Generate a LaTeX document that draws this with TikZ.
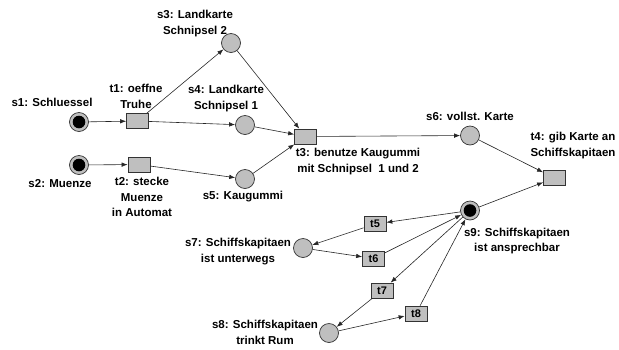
\documentclass[tikz,border=0pt]{standalone}
\usepackage{fontspec}
\setmainfont{Liberation Sans}
\usepackage{tikz}
\usetikzlibrary{arrows.meta}

\tikzset{
  place/.style={circle, draw=black!80, fill=black!25, line width=0.7pt, minimum size=19pt, inner sep=0pt},
  marked/.style={place, path picture={\fill[black] (path picture bounding box.center) circle (6.3pt);}},
  trans/.style={rectangle, draw=black!80, fill=black!25, line width=0.7pt, minimum width=22pt, minimum height=15pt, inner sep=0pt, font=\bfseries\fontsize{11}{13}\selectfont},
  lbl/.style={align=center, inner sep=0pt, font=\bfseries\fontsize{11.5}{15.5}\selectfont},
  arc/.style={-{Latex[length=6pt,width=4.5pt]}, line width=0.6pt, black!85}
}

\begin{document}
\begin{tikzpicture}[x=1pt, y=-1pt]
\useasboundingbox (0,0) rectangle (619,349);

% places
\node[marked] (s1) at (79,122) {};
\node[marked] (s2) at (79,165) {};
\node[place] (s3) at (231,43) {};
\node[place] (s4) at (245,125) {};
\node[place] (s5) at (245,179) {};
\node[place] (s6) at (470,135.5) {};
\node[place] (s7) at (303,248) {};
\node[place] (s8) at (329,333) {};
\node[marked] (s9) at (470,210.5) {};

% transitions
\node[trans] (t1) at (137.5,121) {};
\node[trans] (t2) at (139,164.5) {};
\node[trans] (t3) at (305.5,136.5) {};
\node[trans] (t4) at (554.5,178) {};
\node[trans] (t5) at (375,224) {t5};
\node[trans] (t6) at (373.5,258.5) {t6};
\node[trans] (t7) at (382,290.5) {t7};
\node[trans] (t8) at (416,313.5) {t8};

% labels
\node[lbl] (s1l) at (52,102) {s1: Schluessel};
\node[lbl] (s2l) at (60,184) {s2: Muenze};
\node[lbl] (s3l) at (195,23.5) {s3: Landkarte\\Schnipsel 2};
\node[lbl] (s4l) at (226,98.5) {s4: Landkarte\\Schnipsel 1};
\node[lbl] (s5l) at (243,197) {s5: Kaugummi};
\node[lbl] (s6l) at (470,116) {s6: vollst. Karte};
\node[lbl] (s7l) at (238,251.5) {s7: Schiffskapitaen\\ist unterwegs};
\node[lbl] (s8l) at (265,332.5) {s8: Schiffskapitaen\\trinkt Rum};
\node[lbl] (s9l) at (517,241) {s9: Schiffskapitaen\\ist ansprechbar};
\node[lbl] (t1l) at (136,96.5) {t1: oeffne\\Truhe};
\node[lbl] (t2l) at (142,197) {t2: stecke\\Muenze\\in Automat};
\node[lbl] (t3l) at (358,161.5) {t3: benutze Kaugummi\\mit Schnipsel\ \ 1 und 2};
\node[lbl] (t4l) at (573,145.5) {t4: gib Karte an\\Schiffskapitaen};

% arcs
\draw[arc] (s1) -- (t1);
\draw[arc] (t1) -- (s3);
\draw[arc] (t1) -- (s4);
\draw[arc] (s3) -- (t3);
\draw[arc] (s4) -- (t3);
\draw[arc] (s2) -- (t2);
\draw[arc] (t2) -- (s5);
\draw[arc] (s5) -- (t3);
\draw[arc] (t3) -- (s6);
\draw[arc] (s6) -- (t4);
\draw[arc] (s9) -- (t4);
\draw[arc] (s9) -- (t5);
\draw[arc] (t5) -- (s7);
\draw[arc] (s7) -- (t6);
\draw[arc] (t6) -- (s9);
\draw[arc] (s9) -- (t7);
\draw[arc] (t7) -- (s8);
\draw[arc] (s8) -- (t8);
\draw[arc] (t8) -- (s9);

\end{tikzpicture}
\end{document}
